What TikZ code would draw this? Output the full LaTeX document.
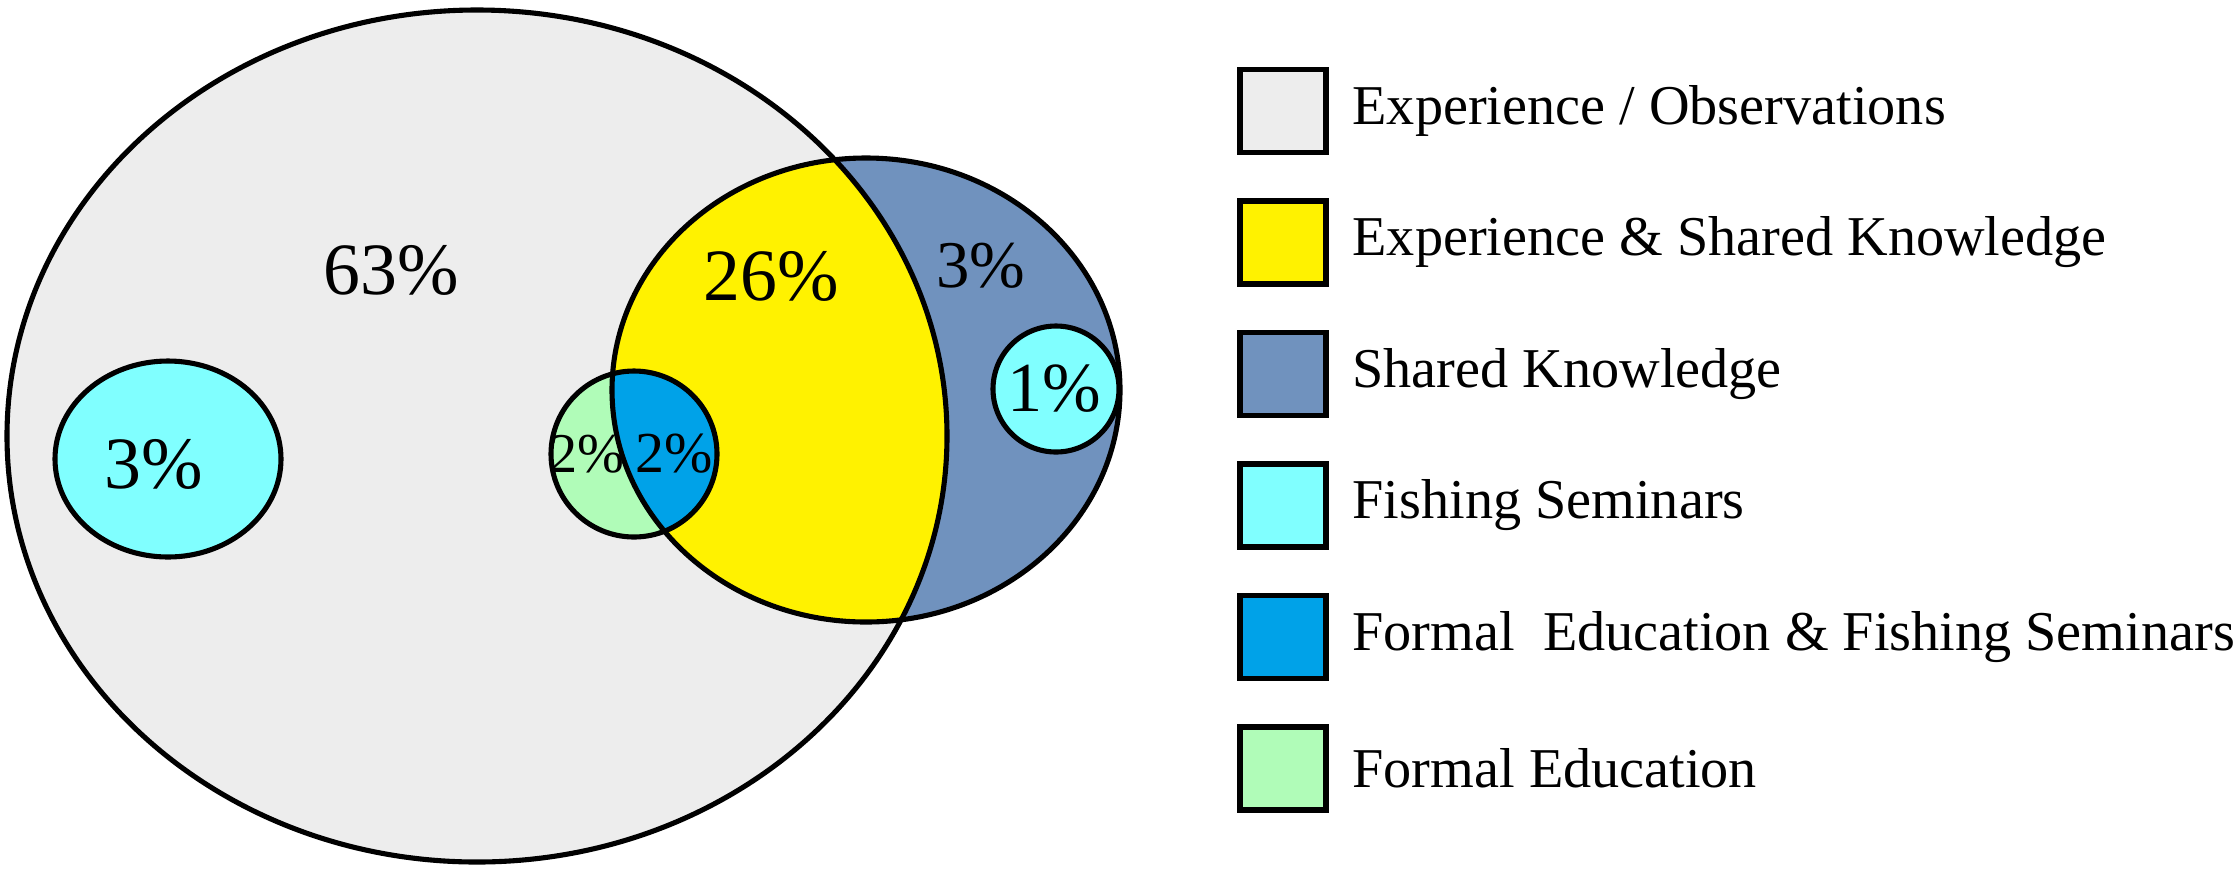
\documentclass[tikz,border=0pt]{standalone}
\usepackage{fontspec}
\setmainfont{Liberation Serif}
\usetikzlibrary{positioning}

\definecolor{expgray}{HTML}{EDEDED}
\definecolor{skyellow}{HTML}{FFF200}
\definecolor{skblue}{HTML}{7092BE}
\definecolor{fscyan}{HTML}{80FFFF}
\definecolor{feblue}{HTML}{00A2E8}
\definecolor{fegreen}{HTML}{B0FCB8}

\begin{document}
\begin{tikzpicture}[x=0.02cm,y=-0.02cm,line width=2.9pt,
                    pct/.style={font=\fontsize{42}{48}\selectfont,inner sep=0pt},
                    key/.style={draw,line width=3.1pt,outer sep=0pt,minimum width=1.72cm,minimum height=1.66cm,inner sep=0pt},
                    keytext/.style={font=\fontsize{32}{38}\selectfont,anchor=west,inner sep=0pt},
                    node distance=0.97cm and 0.48cm]
  \useasboundingbox (0,0) rectangle (2240,870);

  \coordinate (exp) at (477,436);
  \coordinate (shk) at (866,390);
  \coordinate (fed) at (634,454);
  \coordinate (fsl) at (168,459);
  \coordinate (fsr) at (1056,389);

  % venn
  \fill[expgray] (exp) ellipse [x radius=470, y radius=426];
  \fill[skblue] (shk) ellipse [x radius=254, y radius=232];
  \begin{scope}
    \clip (exp) ellipse [x radius=470, y radius=426];
    \fill[skyellow] (shk) ellipse [x radius=254, y radius=232];
  \end{scope}
  \fill[fegreen] (fed) circle [radius=83];
  \begin{scope}
    \clip (shk) ellipse [x radius=254, y radius=232];
    \fill[feblue] (fed) circle [radius=83];
  \end{scope}
  \draw (exp) ellipse [x radius=470, y radius=426];
  \draw (shk) ellipse [x radius=254, y radius=232];
  \draw (fed) circle [radius=83];
  \draw[fill=fscyan] (fsl) ellipse [x radius=113, y radius=98];
  \draw[fill=fscyan] (fsr) circle [radius=63];

  \node[pct] (p63) at (391,270) {63\%};
  \node[pct] (p26) at (771,276) {26\%};
  \node[pct,font=\fontsize{38}{44}\selectfont] (p3b) at (981,266) {3\%};
  \node[pct] (p3c) at (154,464) {3\%};
  \node[pct,font=\fontsize{40}{46}\selectfont] (p1) at (1054,389) {1\%};
  \node[pct,font=\fontsize{32}{38}\selectfont] (p2g) at (587,454) {2\%};
  \node[pct,font=\fontsize{33}{38}\selectfont] (p2b) at (674,454) {2\%};

  % legend
  \node[key,fill=expgray] (k1) at (1283,111) {};
  \node[key,fill=skyellow,below=of k1] (k2) {};
  \node[key,fill=skblue,below=of k2] (k3) {};
  \node[key,fill=fscyan,below=of k3] (k4) {};
  \node[key,fill=feblue,below=of k4] (k5) {};
  \node[key,fill=fegreen,below=of k5] (k6) {};
  \node[keytext,right=of k1] (t1) {Experience / Observations};
  \node[keytext,right=of k2] (t2) {Experience \& Shared Knowledge};
  \node[keytext,right=of k3] (t3) {Shared Knowledge};
  \node[keytext,right=of k4] (t4) {Fishing Seminars};
  \node[keytext,right=of k5] (t5) {Formal\ \ Education \& Fishing Seminars};
  \node[keytext,right=of k6] (t6) {Formal Education};
\end{tikzpicture}
\end{document}
